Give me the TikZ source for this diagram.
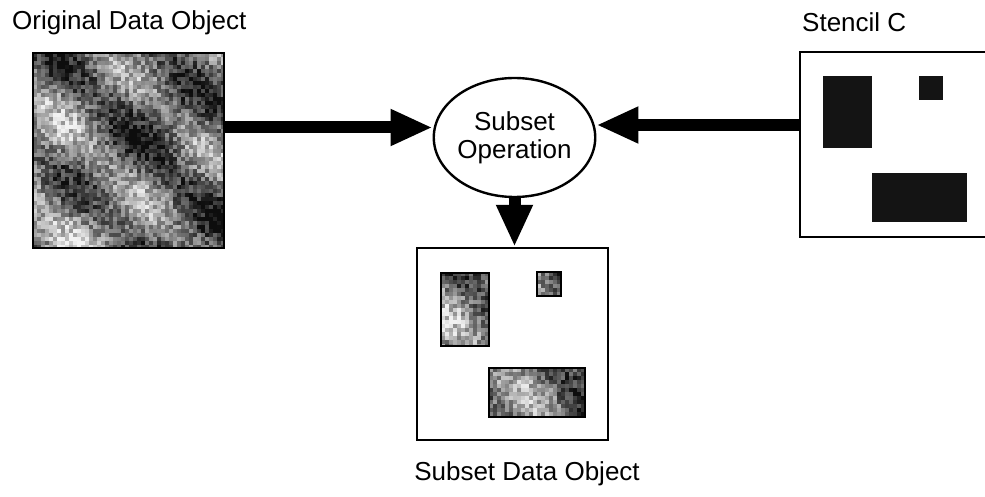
\documentclass[tikz,border=0pt]{standalone}
\usepackage{fontspec}
\setmainfont{Liberation Sans}
\usetikzlibrary{arrows.meta,shapes.geometric,calc}
\tikzset{
  lbl/.style={font=\fontsize{26}{30}\selectfont, inner sep=0pt},
  frame/.style={draw=black, line width=2.4pt, inner sep=0pt, rectangle},
  fatarrow/.style={line width=12pt, -{Triangle[length=42pt,width=34pt]}},
  opnode/.style={ellipse, draw=black, line width=2.4pt, fill=white, minimum width=145pt, minimum height=119pt, inner sep=0pt, font=\fontsize{26}{30}\selectfont, align=center},
  patch/.style={draw=black, line width=2pt},
  hole/.style={fill=black!92}
}
\newcommand{\mytexture}{%
  \pgfmathsetseed{11}%
  \foreach \i in {0,...,47}{%
    \foreach \j in {0,...,48}{%
      \pgfmathsetmacro\g{min(95,max(5,54+22*sin(3.2*(4*\i-4*\j)+30)+12*sin(1.9*4*\i+2.6*4*\j+40)+8*sin(1.1*4*\i-0.6*4*\j)+46*(rnd-0.5)))}%
      \fill[black!\g] (4*\i,4*\j) rectangle ++(4.3,4.3);
    }%
  }%
}
\begin{document}
\begin{tikzpicture}[x=1pt,y=-1pt]
\useasboundingbox (0,0) rectangle (985,497);
% original data texture
\begin{scope}[shift={(33,53)}]
  \clip (0,0) rectangle (191,195);
  \mytexture
\end{scope}
\node[frame, minimum width=191pt, minimum height=195pt] (orig) at (128.5,150.5) {};
\node[lbl, anchor=base west] (origlbl) at (12,30) {Original Data Object};
% stencil
\node[frame, minimum width=191pt, minimum height=185pt] (stencil) at (895.5,144.5) {};
\node[lbl, anchor=base west] (stlbl) at (802,32) {Stencil C};
\fill[hole] (823,76) rectangle (872,148);
\fill[hole] (919,76) rectangle (943,100);
\fill[hole] (872,173) rectangle (967,222);
% subset object
\node[frame, minimum width=191pt, minimum height=192pt] (subset) at (512.5,344) {};
\begin{scope}[shift={(417,248)}]
  \begin{scope}
    \clip (24,25) rectangle (72,98) (120,24) rectangle (144,48) (72,120) rectangle (168,169);
    \mytexture
  \end{scope}
  \draw[patch] (24,25) rectangle (72,98);
  \draw[patch] (120,24) rectangle (144,48);
  \draw[patch] (72,120) rectangle (168,169);
\end{scope}
\node[lbl, anchor=base] (sublbl) at (527,480) {Subset Data Object};
% operation
\node[opnode] (op) at (514.5,137.5) {Subset\\[-2pt]Operation};
% arrows
\draw[fatarrow] ([yshift=23pt]orig.east) -- ([yshift=10pt]op.west);
\draw[fatarrow] ([yshift=19.5pt]stencil.west) -- ([yshift=12.5pt]op.east);
\draw[fatarrow] (op.south) -- (op.south |- subset.north);
\end{tikzpicture}
\end{document}
